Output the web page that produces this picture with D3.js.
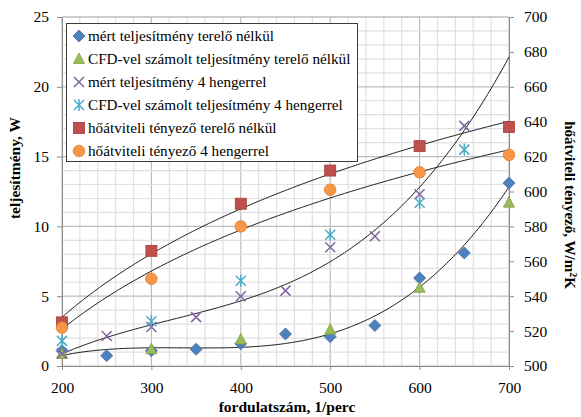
<!DOCTYPE html>
<html>
<head>
<meta charset="utf-8">
<script src="https://cdn.jsdelivr.net/npm/d3@7"></script>
<style>
  body { margin: 0; background: #fff; }
  svg { display: block; }
  text { font-family: "Liberation Serif", "DejaVu Serif", "Times New Roman", serif; fill: #000; }
</style>
</head>
<body>
<div id="chart"></div>
<script>
// rpm values
var rpmHalf = [200, 250, 300, 350, 400, 450, 500, 550, 600, 650, 700];
var rpmFull = [200, 300, 400, 500, 600, 700];
var rpm4 = [200, 250, 300, 350, 400, 450, 500, 550, 600, 650];
var rpmCfd4 = [200, 300, 400, 500, 600, 650];

// power, W (left axis)
var mertTerelo = [1.1, 0.74, 1.1, 1.2, 1.6, 2.3, 2.1, 2.9, 6.3, 8.1, 13.1];
var cfdTerelo = [0.86, 1.2, 1.9, 2.6, 5.6, 11.7];
var mert4 = [0.9, 2.15, 2.8, 3.5, 5.0, 5.4, 8.5, 9.3, 12.3, 17.2];
var cfd4 = [1.8, 3.2, 6.1, 9.4, 11.7, 15.5];

// heat transfer coefficient, W/m2K (right axis)
var hoatTerelo = [525, 566, 593, 612, 626, 637];
var hoat4 = [522, 550, 580, 601, 611, 621];

var leftTicks = [0, 5, 10, 15, 20, 25];
var rightTicks = [500, 520, 540, 560, 580, 600, 620, 640, 660, 680, 700];
var xTicks = [200, 300, 400, 500, 600, 700];

var legendNames = [
    'mért teljesítmény terelő nélkül',
    'CFD-vel számolt teljesítmény terelő nélkül',
    'mért teljesítmény 4 hengerrel',
    'CFD-vel számolt teljesítmény 4 hengerrel',
    'hőátviteli tényező terelő nélkül',
    'hőátviteli tényező 4 hengerrel'
];

var width = 581, height = 417;
var pLeft = 62, pRight = 509, pTop = 17, pBottom = 366;
var serif = '"Liberation Serif", "DejaVu Serif", serif';

var svg = d3.select('#chart').append('svg')
    .attr('width', width)
    .attr('height', height);

svg.append('rect').attr('width', width).attr('height', height).attr('fill', '#fff');

var x = d3.scaleLinear().domain([200, 700]).range([pLeft, pRight]);
var y = d3.scaleLinear().domain([0, 25]).range([pBottom, pTop]);
var y2 = d3.scaleLinear().domain([500, 700]).range([pBottom, pTop]);

// grid
var grid = svg.append('g');
d3.range(200, 701, 20).forEach(v => {
    grid.append('line')
        .attr('x1', x(v)).attr('x2', x(v))
        .attr('y1', pTop).attr('y2', pBottom)
        .attr('stroke', v % 100 == 0 ? '#bdbdbd' : '#e0e0e0')
        .attr('stroke-width', 1.2);
});
d3.range(0, 26, 1).forEach(v => {
    grid.append('line')
        .attr('x1', pLeft).attr('x2', pRight)
        .attr('y1', y(v)).attr('y2', y(v))
        .attr('stroke', v % 5 == 0 ? '#bdbdbd' : '#e0e0e0')
        .attr('stroke-width', 1.2);
});

// axes
var xAxis = d3.axisBottom(x).tickValues(xTicks).tickSize(4).tickPadding(12);
var yAxis = d3.axisLeft(y).tickValues(leftTicks).tickSize(5).tickPadding(8);
var yAxis2 = d3.axisRight(y2).tickValues(rightTicks).tickSize(5).tickPadding(10);

function styleAxis(g) {
    g.attr('font-family', serif).attr('font-size', 15.5);
    g.selectAll('path, line').attr('stroke', '#8c8c8c');
    g.selectAll('text').attr('fill', '#000');
}

svg.append('g').attr('transform', 'translate(0,' + pBottom + ')').call(xAxis).call(styleAxis);
svg.append('g').attr('transform', 'translate(' + pLeft + ',0)').call(yAxis).call(styleAxis);
svg.append('g').attr('transform', 'translate(' + pRight + ',0)').call(yAxis2).call(styleAxis);
svg.append('line').attr('x1', pLeft).attr('x2', pRight).attr('y1', pTop).attr('y2', pTop)
    .attr('stroke', '#bdbdbd').attr('stroke-width', 1.2);

// least squares polynomial fit, x scaled by 1/100
function polyFit(xs, ys, deg) {
    let n = deg + 1;
    let A = [], b = [];
    for (let i = 0; i < n; i++) {
        A.push(new Array(n).fill(0));
        b.push(0);
    }
    xs.forEach((xv, k) => {
        let t = xv / 100;
        for (let i = 0; i < n; i++) {
            for (let j = 0; j < n; j++) A[i][j] += Math.pow(t, i + j);
            b[i] += ys[k] * Math.pow(t, i);
        }
    });
    for (let i = 0; i < n; i++) {
        for (let k = i + 1; k < n; k++) {
            let f = A[k][i] / A[i][i];
            for (let j = i; j < n; j++) A[k][j] -= f * A[i][j];
            b[k] -= f * b[i];
        }
    }
    let c = new Array(n).fill(0);
    for (let i = n - 1; i >= 0; i--) {
        let s = b[i];
        for (let j = i + 1; j < n; j++) s -= A[i][j] * c[j];
        c[i] = s / A[i][i];
    }
    return xv => c.reduce((s, ci, i) => s + ci * Math.pow(xv / 100, i), 0);
}

// logarithmic trend: y = a ln(x) + b
function logFit(xs, ys) {
    let lx = xs.map(Math.log);
    let mx = d3.mean(lx), my = d3.mean(ys);
    let sxy = d3.sum(lx, (v, i) => (v - mx) * (ys[i] - my));
    let sxx = d3.sum(lx, v => (v - mx) * (v - mx));
    let a = sxy / sxx, b = my - a * mx;
    return xv => a * Math.log(xv) + b;
}

var trends = [
    { f: polyFit(rpmHalf, mertTerelo, 3), sc: y },
    { f: polyFit(rpm4, mert4, 3), sc: y },
    { f: logFit(rpmFull, hoatTerelo), sc: y2 },
    { f: logFit(rpmFull, hoat4), sc: y2 }
];

var line = d3.line();
trends.forEach(t => {
    let pts = d3.range(200, 700.1, 2)
        .map(v => [x(v), t.sc(t.f(v))])
        .filter(p => p[1] >= pTop - 1);
    svg.append('path')
        .attr('d', line(pts))
        .attr('fill', 'none')
        .attr('stroke', '#1a1a1a')
        .attr('stroke-width', 1);
});

// marker drawing
function marker(g, type, cx, cy) {
    if (type == 'diamond') {
        g.append('path')
            .attr('d', 'M' + cx + ',' + (cy - 6) + 'L' + (cx + 6) + ',' + cy + 'L' + cx + ',' + (cy + 6) + 'L' + (cx - 6) + ',' + cy + 'Z')
            .attr('fill', '#4f81bd').attr('stroke', '#3d6aa3').attr('stroke-width', 0.8);
    } else if (type == 'triangle') {
        g.append('path')
            .attr('d', 'M' + cx + ',' + (cy - 6) + 'L' + (cx + 5.5) + ',' + (cy + 4.5) + 'L' + (cx - 5.5) + ',' + (cy + 4.5) + 'Z')
            .attr('fill', '#9bbb59').attr('stroke', '#7f9e44').attr('stroke-width', 0.8);
    } else if (type == 'x') {
        g.append('path')
            .attr('d', 'M' + (cx - 5) + ',' + (cy - 5) + 'L' + (cx + 5) + ',' + (cy + 5) + 'M' + (cx - 5) + ',' + (cy + 5) + 'L' + (cx + 5) + ',' + (cy - 5))
            .attr('stroke', '#8064a2').attr('stroke-width', 1.5).attr('fill', 'none');
    } else if (type == 'star') {
        g.append('path')
            .attr('d', 'M' + (cx - 5) + ',' + (cy - 5) + 'L' + (cx + 5) + ',' + (cy + 5) + 'M' + (cx - 5) + ',' + (cy + 5) + 'L' + (cx + 5) + ',' + (cy - 5) + 'M' + cx + ',' + (cy - 6) + 'L' + cx + ',' + (cy + 6))
            .attr('stroke', '#4bacc6').attr('stroke-width', 1.5).attr('fill', 'none');
    } else if (type == 'square') {
        g.append('rect')
            .attr('x', cx - 5.5).attr('y', cy - 5.5).attr('width', 11).attr('height', 11)
            .attr('fill', '#c0504d').attr('stroke', '#a63c39').attr('stroke-width', 0.8);
    } else if (type == 'circle') {
        g.append('circle')
            .attr('cx', cx).attr('cy', cy).attr('r', 5.8)
            .attr('fill', '#f79646').attr('stroke', '#e07f2e').attr('stroke-width', 0.8);
    }
}

var seriesList = [
    { xs: rpmHalf, ys: mertTerelo, sc: y, type: 'diamond' },
    { xs: rpmFull, ys: cfdTerelo, sc: y, type: 'triangle' },
    { xs: rpm4, ys: mert4, sc: y, type: 'x' },
    { xs: rpmCfd4, ys: cfd4, sc: y, type: 'star' },
    { xs: rpmFull, ys: hoatTerelo, sc: y2, type: 'square' },
    { xs: rpmFull, ys: hoat4, sc: y2, type: 'circle' }
];

var marks = svg.append('g');
seriesList.forEach(s => {
    let g = marks.append('g');
    s.xs.forEach((xv, i) => marker(g, s.type, x(xv), s.sc(s.ys[i])));
});

// legend
var lg = svg.append('g');
lg.append('rect')
    .attr('x', 66.5).attr('y', 23.5).attr('width', 291).attr('height', 138)
    .attr('fill', '#fff').attr('stroke', '#3a3a3a').attr('stroke-width', 1);
legendNames.forEach((name, i) => {
    let cy = 36 + i * 23;
    marker(lg, seriesList[i].type, 79, cy);
    lg.append('text')
        .attr('x', 88).attr('y', cy + 5)
        .attr('font-family', serif)
        .attr('font-size', 15.2)
        .text(name);
});

// axis titles
svg.append('text')
    .attr('x', 287).attr('y', 412)
    .attr('text-anchor', 'middle')
    .attr('font-family', serif)
    .attr('font-weight', 'bold').attr('font-size', 15.5)
    .text('fordulatszám, 1/perc');

svg.append('text')
    .attr('transform', 'translate(20,168) rotate(-90)')
    .attr('text-anchor', 'middle')
    .attr('font-family', serif)
    .attr('font-weight', 'bold').attr('font-size', 15.5)
    .text('teljesítmény, W');

var rt = svg.append('text')
    .attr('transform', 'translate(565,205) rotate(90)')
    .attr('text-anchor', 'middle')
    .attr('font-family', serif)
    .attr('font-weight', 'bold').attr('font-size', 15);
rt.append('tspan').text('hőátviteli tényező, W/m');
rt.append('tspan').attr('dy', -5).attr('font-size', 10).text('2');
rt.append('tspan').attr('dy', 5).text('K');
</script>
</body>
</html>
